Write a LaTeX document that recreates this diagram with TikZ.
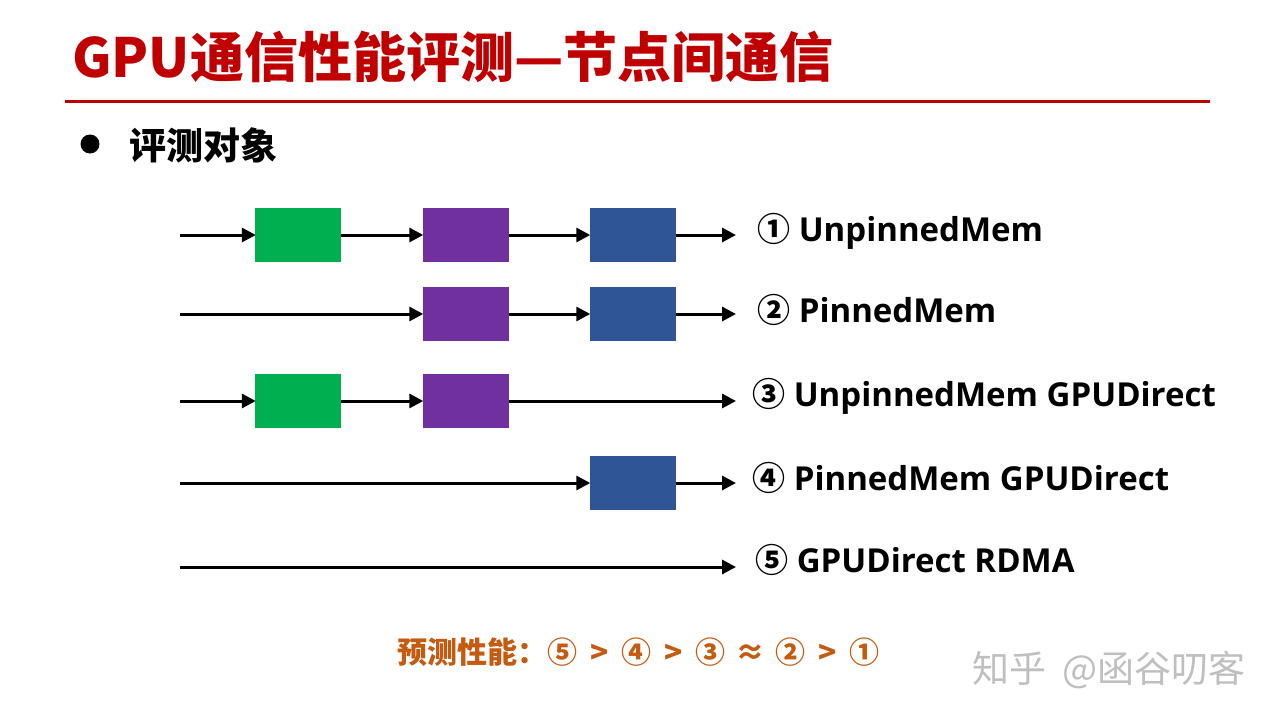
\documentclass[tikz,border=0pt]{standalone}
\usepackage{fontspec}
\usetikzlibrary{arrows.meta}
\newfontfamily\cjk{Noto Sans CJK SC}
\newfontfamily\latinsans{Open Sans}
\definecolor{titlered}{HTML}{C00000}
\definecolor{boxgreen}{HTML}{00B050}
\definecolor{boxpurple}{HTML}{7030A0}
\definecolor{boxblue}{HTML}{2F5597}
\definecolor{orangetxt}{HTML}{C55A11}
\tikzset{
  stage/.style={rectangle, minimum width=86pt, minimum height=54pt, inner sep=0pt, draw=none},
  flow/.style={line width=3pt, -{Triangle[length=14pt,width=14pt]}, shorten >=-1pt},
  caption/.style={anchor=west, inner sep=0pt, font=\latinsans\bfseries\fontsize{33}{37}\selectfont},
}
\newcommand{\circnum}[1]{{\cjk\bfseries #1}}
\newcommand{\gapsp}{\hspace{13pt}}
\begin{document}
\begin{tikzpicture}[x=1pt,y=-1pt]
\useasboundingbox[fill=white] (0,0) rectangle (1280,720);

% heading and rule
\node[anchor=west, inner sep=0pt, text=titlered, font=\cjk\bfseries\fontsize{54}{58}\selectfont] (title) at (72,57) {GPU通信性能评测—节点间通信};
\draw[titlered, line width=3pt] (65,101) -- (1210,101);

% bullet
\fill[black] (90,144) circle (9.5);
\node[anchor=west, inner sep=0pt, font=\cjk\bfseries\fontsize{37}{41}\selectfont] (obj) at (129,145) {评测对象};

% row 1
\coordinate (s1) at (180,235);
\node[stage, fill=boxgreen]  (g1) at (298,235) {};
\node[stage, fill=boxpurple] (p1) at (465.5,235) {};
\node[stage, fill=boxblue]   (b1) at (632.5,235) {};
\coordinate (e1) at (735,235);
\draw[flow] (s1) -- (g1.west);
\draw[flow] (g1.east) -- (p1.west);
\draw[flow] (p1.east) -- (b1.west);
\draw[flow] (b1.east) -- (e1);
\node[caption] (l1) at (757,231) {\circnum{①} UnpinnedMem};

% row 2
\coordinate (s2) at (180,314);
\node[stage, fill=boxpurple] (p2) at (465.5,314) {};
\node[stage, fill=boxblue]   (b2) at (632.5,314) {};
\coordinate (e2) at (735,314);
\draw[flow] (s2) -- (p2.west);
\draw[flow] (p2.east) -- (b2.west);
\draw[flow] (b2.east) -- (e2);
\node[caption] (l2) at (757,310) {\circnum{②} PinnedMem};

% row 3
\coordinate (s3) at (180,401);
\node[stage, fill=boxgreen]  (g3) at (298,401) {};
\node[stage, fill=boxpurple] (p3) at (465.5,401) {};
\coordinate (e3) at (735,401);
\draw[flow] (s3) -- (g3.west);
\draw[flow] (g3.east) -- (p3.west);
\draw[flow] (p3.east) -- (e3);
\node[caption] (l3) at (752,396) {\circnum{③} UnpinnedMem GPUDirect};

% row 4
\coordinate (s4) at (180,483);
\node[stage, fill=boxblue] (b4) at (632.5,483) {};
\coordinate (e4) at (735,483);
\draw[flow] (s4) -- (b4.west);
\draw[flow] (b4.east) -- (e4);
\node[caption] (l4) at (752,478) {\circnum{④} PinnedMem GPUDirect};

% row 5
\coordinate (s5) at (180,567);
\coordinate (e5) at (735,567);
\draw[flow] (s5) -- (e5);
\node[caption] (l5) at (755,560) {\circnum{⑤} GPUDirect RDMA};

% predicted ranking
\node[anchor=west, inner sep=0pt, text=orangetxt, font=\cjk\bfseries\fontsize{30}{34}\selectfont] (rank) at (397,652)
  {预测性能：⑤\gapsp>\gapsp④\gapsp>\gapsp③\hspace{10pt}≈\hspace{10pt}②\gapsp>\gapsp①};

% watermark
\node[anchor=west, inner sep=0pt, text=black!25, font=\cjk\fontsize{37}{41}\selectfont] (mark) at (972,670) {知乎\hspace{16pt}@函谷叨客};
\end{tikzpicture}
\end{document}
